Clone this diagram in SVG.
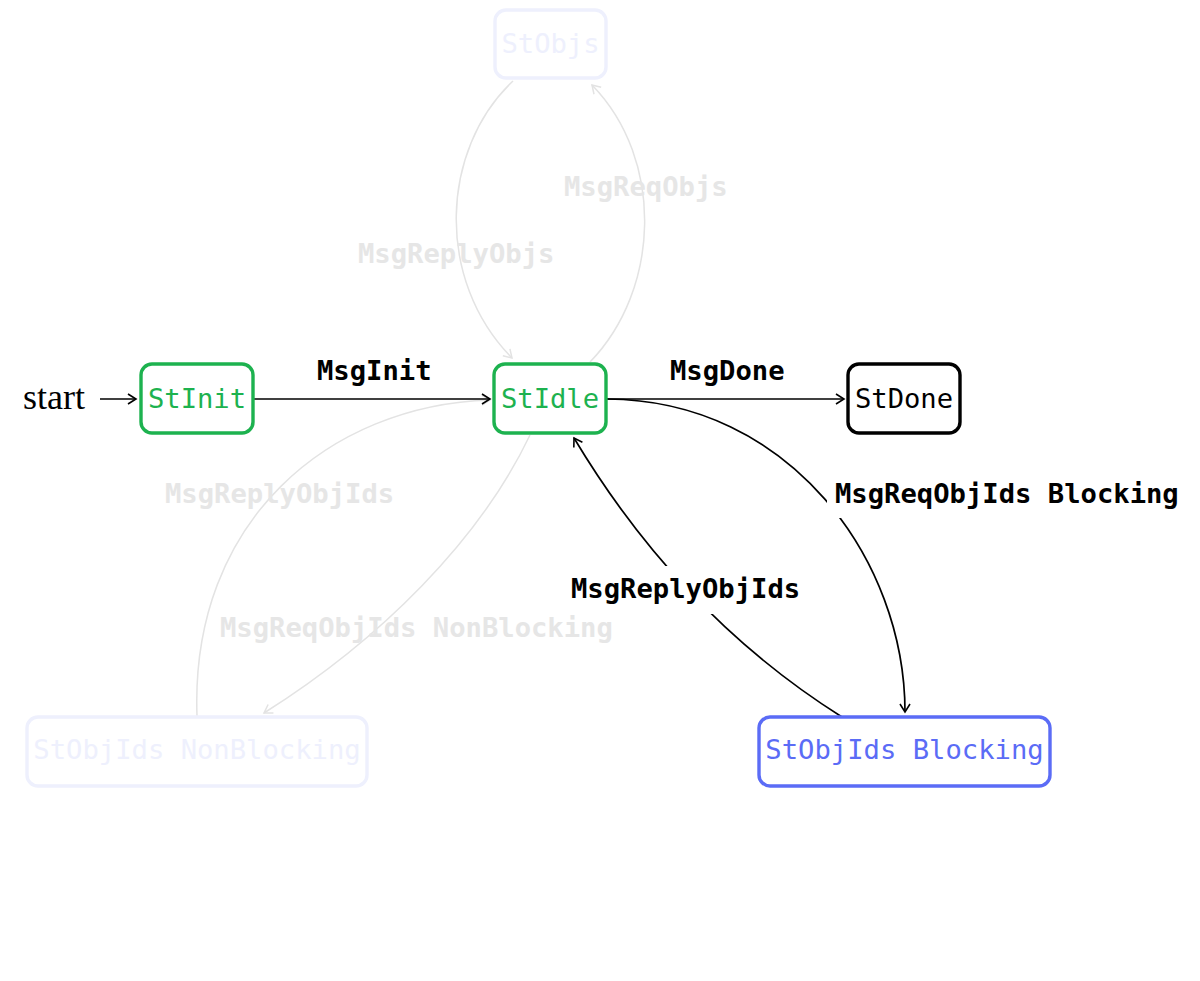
<svg xmlns="http://www.w3.org/2000/svg" width="1200" height="981" viewBox="0 0 1200 981">
<defs>
<style>
.node rect{fill:#fff;stroke-width:3.4}
.node text{font-family:"DejaVu Sans Mono",monospace;font-size:27.2px;text-anchor:middle}
.green rect{stroke:#1db24f}
.green text{fill:#1db24f}
.blue rect{stroke:#5b6cf6}
.blue text{fill:#5b6cf6}
.black rect{stroke:#000}
.black text{fill:#000}
.faint rect{stroke:#eef0fd}
.faint text{fill:#eef0fd}
.edge{fill:none;stroke:#000;stroke-width:1.7}
.edge.gray{stroke:#e3e3e3;stroke-width:1.5}
.lbl{font-family:"DejaVu Sans Mono",monospace;font-size:27.2px;font-weight:bold;fill:#000}
.lbl.gray{fill:#e6e6e6}
.bg{fill:#fff}
</style>
<marker id="ah" markerUnits="userSpaceOnUse" markerWidth="14" markerHeight="14" refX="10" refY="6" orient="auto">
<path d="M2,1 L10,6 L2,11" fill="none" stroke="#000" stroke-width="1.6"/>
</marker>
<marker id="ahg" markerUnits="userSpaceOnUse" markerWidth="14" markerHeight="14" refX="10" refY="6" orient="auto">
<path d="M2,1 L10,6 L2,11" fill="none" stroke="#e3e3e3" stroke-width="1.5"/>
</marker>
</defs>
<rect width="1200" height="981" fill="#fff"/>

<g id="connectors">
<path class="edge gray" d="M590,362 C660,290 665,160 592,85" marker-end="url(#ahg)"/>
<path class="edge gray" d="M513,81 C440,150 435,280 512,358" marker-end="url(#ahg)"/>
<path class="edge gray" d="M530,435 C480,540 380,640 264,713" marker-end="url(#ahg)"/>
<path class="edge gray" d="M197,716 C190,520 330,405 490,400" marker-end="url(#ahg)"/>
<line class="edge" x1="100" y1="399" x2="136" y2="399" marker-end="url(#ah)"/>
<line class="edge" x1="254" y1="399" x2="490" y2="399" marker-end="url(#ah)"/>
<line class="edge" x1="607" y1="399" x2="844" y2="399" marker-end="url(#ah)"/>
<path class="edge" d="M607,399 C790,400 905,560 905,712" marker-end="url(#ah)"/>
<path class="edge" d="M842,717 Q680,615 574,438" marker-end="url(#ah)"/>
</g>

<g id="labels">
<text class="lbl gray" x="564" y="196">MsgReqObjs</text>
<text class="lbl gray" x="358" y="263">MsgReplyObjs</text>
<text class="lbl gray" x="165" y="503">MsgReplyObjIds</text>
<text class="lbl gray" x="220" y="637">MsgReqObjIds NonBlocking</text>
<text class="lbl" x="317" y="380">MsgInit</text>
<text class="lbl" x="670" y="380">MsgDone</text>
<rect class="bg" x="827" y="478" width="355" height="40"/>
<text class="lbl" x="835" y="503">MsgReqObjIds Blocking</text>
<rect class="bg" x="563" y="566" width="243" height="48"/>
<text class="lbl" x="571" y="598">MsgReplyObjIds</text>
<text x="23" y="409" font-family="Liberation Serif, serif" font-size="36" fill="#000">start</text>
</g>

<g id="StObjs" class="node faint">
<rect x="495" y="10" width="111" height="68" rx="11"/>
<text x="550.5" y="53">StObjs</text>
</g>
<g id="StInit" class="node green">
<rect x="141" y="364" width="112" height="69" rx="11"/>
<text x="197" y="408">StInit</text>
</g>
<g id="StIdle" class="node green">
<rect x="494" y="364" width="112" height="69" rx="11"/>
<text x="550" y="408">StIdle</text>
</g>
<g id="StDone" class="node black">
<rect x="848" y="364" width="112" height="69" rx="11"/>
<text x="904" y="408">StDone</text>
</g>
<g id="StObjIdsNonBlocking" class="node faint">
<rect x="27" y="717" width="340" height="69" rx="11"/>
<text x="197" y="759">StObjIds NonBlocking</text>
</g>
<g id="StObjIdsBlocking" class="node blue">
<rect x="759" y="717" width="291" height="69" rx="11"/>
<text x="904.5" y="759">StObjIds Blocking</text>
</g>
</svg>
